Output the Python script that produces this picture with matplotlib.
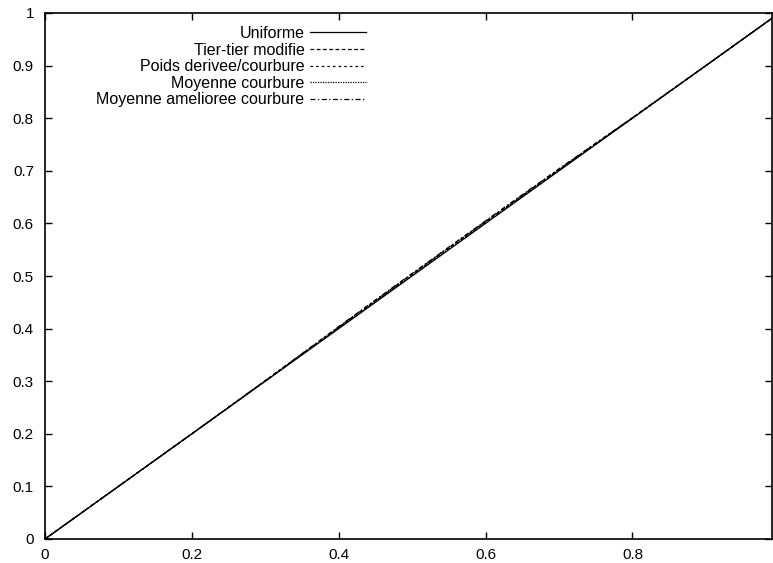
import matplotlib
matplotlib.use("Agg")
import matplotlib.pyplot as plt

plt.rcParams['font.family'] = ['Liberation Sans', 'DejaVu Sans']

# sample abscissae shared by all curves
x = [0.0, 0.1, 0.2, 0.3, 0.4, 0.5, 0.6, 0.7, 0.8, 0.9, 0.99]

uniforme = [0.0, 0.1, 0.2, 0.3, 0.4, 0.5, 0.6, 0.7, 0.8, 0.9, 0.99]
tier_tier = [0.0, 0.1, 0.2, 0.301, 0.403, 0.504, 0.604, 0.703, 0.801, 0.9, 0.99]
poids = [0.0, 0.1, 0.2, 0.301, 0.402, 0.503, 0.603, 0.702, 0.8, 0.9, 0.99]
moyenne = [0.0, 0.1, 0.2, 0.3, 0.401, 0.502, 0.602, 0.701, 0.8, 0.9, 0.99]
moyenne_amelioree = [0.0, 0.1, 0.2, 0.301, 0.404, 0.505, 0.605, 0.704, 0.801, 0.9, 0.99]

labels = ["Uniforme", "Tier-tier modifie", "Poids derivee/courbure",
          "Moyenne courbure", "Moyenne amelioree courbure"]
xticks = [0, 0.2, 0.4, 0.6, 0.8]
xticklabels = ["0", "0.2", "0.4", "0.6", "0.8"]
yticks = [0, 0.1, 0.2, 0.3, 0.4, 0.5, 0.6, 0.7, 0.8, 0.9, 1.0]
yticklabels = ["0", "0.1", "0.2", "0.3", "0.4", "0.5", "0.6", "0.7", "0.8", "0.9", "1"]

W, H = 773, 563
fig = plt.figure(figsize=(W / 100, H / 100), dpi=100)
ax = fig.add_axes([45 / W, 1 - 539 / H, 727 / W, 526 / H])

styles = ['-', (0, (3, 2)), (0, (2, 2.5)), (0, (1, 1)), (0, (4, 2, 1, 2))]
series = [uniforme, tier_tier, poids, moyenne, moyenne_amelioree]
for ys, ls, lab in zip(series, styles, labels):
    ax.plot(x, ys, color='black', linestyle=ls, linewidth=0.9, label=lab)

ax.set_xlim(0, 0.99)
ax.set_ylim(0, 1)
ax.set_xticks(xticks)
ax.set_xticklabels(xticklabels)
ax.set_yticks(yticks)
ax.set_yticklabels(yticklabels)
ax.tick_params(direction='in', length=5, width=1, top=True, right=True,
               labelsize=11, pad=8)
ax.tick_params(axis='x', pad=6.5)
for sp in ax.spines.values():
    sp.set_linewidth(1.2)

# key: labels on the left, right-aligned, line samples after them
leg = ax.legend(loc='upper right', bbox_to_anchor=((366 - 45) / 727, 1 - 13 / 526),
                frameon=False, markerfirst=False, fontsize=11.5, handlelength=3.5,
                handletextpad=0.35, labelspacing=0.1, borderaxespad=0, borderpad=0)

fig.savefig("out.png", dpi=100)
